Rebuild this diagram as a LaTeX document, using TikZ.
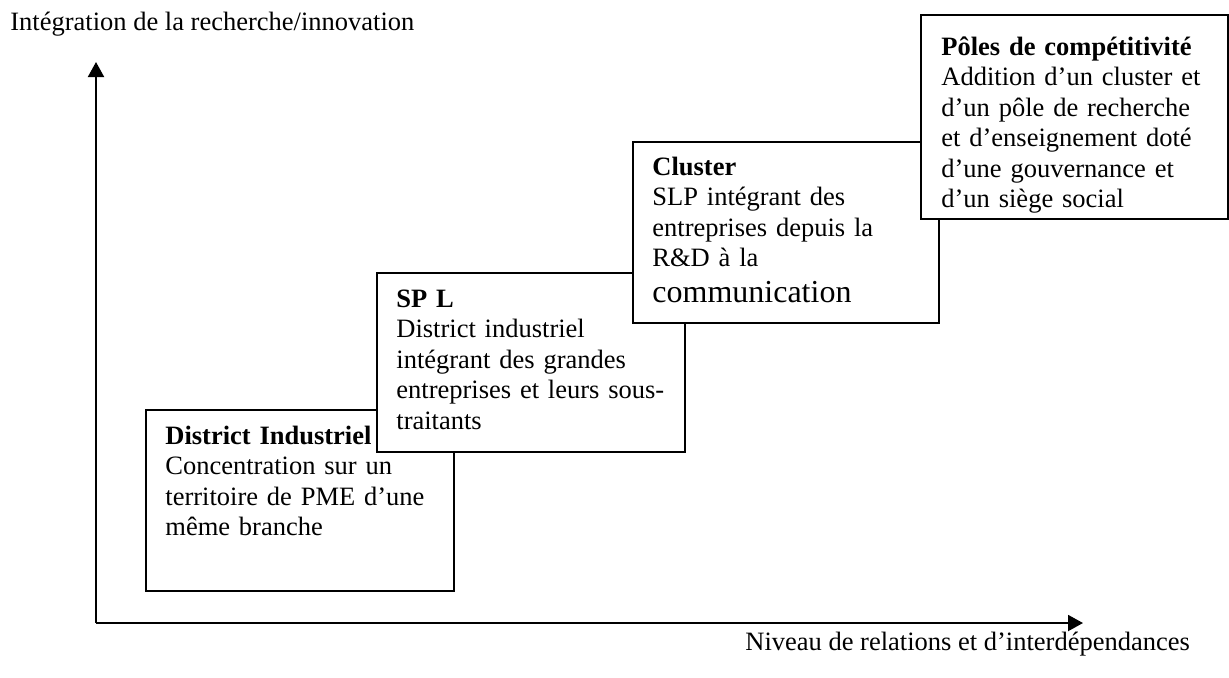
\documentclass[tikz,border=0pt]{standalone}
\usepackage{fontspec}
\setmainfont{Liberation Serif}
\usetikzlibrary{arrows.meta}
\tikzset{
  box/.style={draw=black, fill=white, line width=1pt, rectangle, inner sep=0pt, anchor=north west},
  boxtext/.style={anchor=base west, inner sep=0pt, text width=150pt, align=left,
    font=\fontsize{13.25}{15.25}\selectfont},
  axis/.style={line width=1pt, -{Triangle[length=7.5pt,width=8pt]}},
  lbl/.style={anchor=base west, inner sep=0pt, font=\fontsize{13.25}{15.25}\selectfont}
}
\begin{document}
\begin{tikzpicture}[x=0.5pt,y=-0.5pt]
\useasboundingbox (0,0) rectangle (1229,677);
% axes
\coordinate (O) at (96,623);
\coordinate (ytip) at (96,62);
\coordinate (xtip) at (1083,623);
\draw[axis] (O) -- (ytip);
\draw[axis] (O) -- (xtip);
\node[lbl] (ylab) at (10,30) {Intégration de la recherche/innovation};
\node[lbl] (xlab) at (745,650) {Niveau de relations et d’interdépendances};
% District industriel
\node[box, minimum width=154pt, minimum height=90.5pt] (di) at (145,409) {};
\node[boxtext] (ditext) at (165,444) {\textbf{District Industriel}\\Concentration sur un\\territoire de PME d’une\\même branche};
% SP L
\node[box, minimum width=154pt, minimum height=89.5pt] (spl) at (376,272) {};
\node[boxtext] (spltext) at (396,307) {\textbf{SP L}\\District industriel\\intégrant des grandes\\entreprises et leurs sous-\\traitants};
% Cluster
\node[box, minimum width=153pt, minimum height=90.5pt] (cl) at (632,141) {};
\node[boxtext] (cltext) at (652,175) {\textbf{Cluster}\\SLP intégrant des\\entreprises depuis la\\R\&D à la\\[2.75pt]{\fontsize{16}{18}\selectfont communication}};
% Poles
\node[box, minimum width=153.5pt, minimum height=102pt] (pc) at (920,14) {};
\node[boxtext] (pctext) at (941,55) {\textbf{Pôles de compétitivité}\\Addition d’un cluster et\\d’un pôle de recherche\\et d’enseignement doté\\d’une gouvernance et\\d’un siège social};
\end{tikzpicture}
\end{document}
